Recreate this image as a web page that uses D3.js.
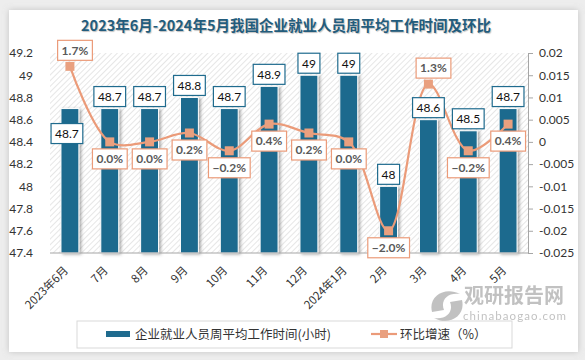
<!DOCTYPE html>
<html>
<head>
<meta charset="utf-8">
<script src="https://cdn.jsdelivr.net/npm/d3@7"></script>
<style>
  body { margin: 0; background: #ededed; }
  svg { display: block; }
  .num { font-family: Lato, "Noto Sans", sans-serif; }
  .cjk { font-family: "Noto Sans CJK SC", sans-serif; }
</style>
</head>
<body>
<div id="chart"></div>
<script>
// data
var months = ["2023年6月", "7月", "8月", "9月", "10月", "11月", "12月",
              "2024年1月", "2月", "3月", "4月", "5月"];
var hours = [48.7, 48.7, 48.7, 48.8, 48.7, 48.9, 49, 49, 48, 48.6, 48.5, 48.7];
var growth = [0.017, 0.000, 0.000, 0.002, -0.002, 0.004, 0.002, 0.000,
              -0.020, 0.013, -0.002, 0.004];
var leftTicks = [47.4, 47.6, 47.8, 48, 48.2, 48.4, 48.6, 48.8, 49, 49.2];
var rightTicks = [-0.025, -0.02, -0.015, -0.01, -0.005, 0, 0.005, 0.01, 0.015, 0.02];

var W = 585, H = 360;
var margin = {top: 53, bottom: 107, left: 50, right: 57};
var barColor = "#1f6b8e", lineColor = "#eb9b79";

var svg = d3.select("#chart").append("svg")
    .attr("width", W).attr("height", H);

var defs = svg.append("defs");
var pat = defs.append("pattern")
    .attr("id", "hatch").attr("patternUnits", "userSpaceOnUse")
    .attr("width", 4).attr("height", 4)
    .attr("patternTransform", "rotate(45)");
pat.append("rect").attr("width", 4).attr("height", 4).attr("fill", "#fff");
pat.append("line").attr("x1", 0).attr("y1", 0).attr("x2", 0).attr("y2", 4)
    .attr("stroke", "#d6d6d6").attr("stroke-width", 1.2);

var sh = defs.append("filter").attr("id", "shadow")
    .attr("x", "-50%").attr("y", "-10%").attr("width", "200%").attr("height", "120%");
sh.append("feDropShadow").attr("dx", 2).attr("dy", 1).attr("stdDeviation", 1.5)
    .attr("flood-color", "#555").attr("flood-opacity", 0.5);

var cs = defs.append("filter").attr("id", "cardShadow")
    .attr("x", "-5%").attr("y", "-5%").attr("width", "110%").attr("height", "110%");
cs.append("feDropShadow").attr("dx", 0).attr("dy", 0).attr("stdDeviation", 3)
    .attr("flood-color", "#999").attr("flood-opacity", 0.5);

// card
svg.append("rect").attr("x", 9).attr("y", 10).attr("width", 569).attr("height", 342)
    .attr("fill", "#fff").attr("filter", "url(#cardShadow)");

// title
svg.append("text").attr("class", "cjk")
    .attr("x", 286).attr("y", 31).attr("text-anchor", "middle")
    .attr("font-size", 14.5).attr("font-weight", "bold").attr("fill", "#235c7c")
    .style("text-shadow", "1px 1px 1px rgba(0,0,0,0.25)")
    .text("2023年6月-2024年5月我国企业就业人员周平均工作时间及环比");

var x0 = margin.left, x1 = W - margin.right;
var y0 = H - margin.bottom, y1 = margin.top;

var xScale = d3.scaleBand().domain(months).range([x0, x1])
    .paddingInner(0.55).paddingOuter(0.275);
var yScale = d3.scaleLinear().domain([47.4, 49.2]).range([y0, y1]);
var yScale2 = d3.scaleLinear().domain([-0.025, 0.02]).range([y0, y1]);

// hatched plot background
svg.append("rect").attr("x", x0).attr("y", y1)
    .attr("width", x1 - x0).attr("height", y0 - y1)
    .attr("fill", "url(#hatch)");

// axes
var yAxis = d3.axisLeft(yScale).tickValues(leftTicks).tickSize(0).tickPadding(17)
    .tickFormat(d3.format("~g"));
svg.append("g").attr("class", "num")
    .attr("transform", "translate(" + x0 + ",0)")
    .call(yAxis)
    .call(g => g.select(".domain").remove())
    .selectAll("text").attr("font-size", 12).attr("fill", "#333")
    .attr("font-family", "Lato, 'Noto Sans', sans-serif");

var yAxis2 = d3.axisRight(yScale2).tickValues(rightTicks).tickSize(5).tickPadding(6)
    .tickSizeOuter(0).tickFormat(d3.format("~g"));
var ra = svg.append("g")
    .attr("transform", "translate(" + x1 + ",0)")
    .call(yAxis2);
ra.select(".domain").attr("stroke", "#a6a6a6");
ra.selectAll("line").attr("stroke", "#a6a6a6");
ra.selectAll("text").attr("font-size", 12).attr("fill", "#333")
    .attr("font-family", "Lato, 'Noto Sans', sans-serif")
    .text(d => d === 0 ? "0" : String(d));

// bars
svg.selectAll("rect.bar").data(months).enter().append("rect")
    .attr("class", "bar")
    .attr("x", d => xScale(d))
    .attr("width", xScale.bandwidth())
    .attr("y", (d, i) => yScale(hours[i]))
    .attr("height", (d, i) => y0 - yScale(hours[i]))
    .attr("fill", barColor)
    .attr("stroke", "#fff").attr("stroke-width", 1)
    .attr("filter", "url(#shadow)");

// baseline
svg.append("line").attr("x1", x0).attr("x2", x1).attr("y1", y0).attr("y2", y0)
    .attr("stroke", "#a6a6a6");

// x labels
svg.append("g").selectAll("text").data(months).enter().append("text")
    .attr("class", "cjk")
    .attr("transform", d => "translate(" + (xScale(d) + xScale.bandwidth() / 2 - 1)
        + "," + (y0 + 18) + ") rotate(-45)")
    .attr("text-anchor", "end")
    .attr("font-size", 11.5).attr("fill", "#333")
    .text(d => d);

// line
var cx = d => xScale(d) + xScale.bandwidth() / 2;
var line = d3.line()
    .x((d, i) => cx(months[i]))
    .y(d => yScale2(d))
    .curve(d3.curveCatmullRom.alpha(0.5));
svg.append("path").datum(growth)
    .attr("d", line).attr("fill", "none")
    .attr("stroke", lineColor).attr("stroke-width", 2.2);

svg.selectAll("rect.mk").data(growth).enter().append("rect")
    .attr("class", "mk")
    .attr("x", (d, i) => cx(months[i]) - 4.5)
    .attr("y", d => yScale2(d) - 4.5)
    .attr("width", 9).attr("height", 9)
    .attr("fill", "#e9a07f");

// label boxes
function labelBox(g, cxp, cyp, txt, stroke, color, weight) {
    var t = g.append("text").attr("class", "num")
        .attr("x", cxp).attr("y", cyp).attr("dy", "0.36em")
        .attr("text-anchor", "middle")
        .attr("font-size", 12).attr("font-weight", weight).attr("fill", color)
        .text(txt);
    var bb = t.node().getBBox();
    g.insert("rect", "text")
        .attr("x", bb.x - 4).attr("y", cyp - 10)
        .attr("width", bb.width + 8).attr("height", 20)
        .attr("fill", "#fff").attr("stroke", stroke).attr("stroke-width", 1.2);
}

// bar value labels
hours.forEach(function(v, i) {
    var g = svg.append("g");
    var top = yScale(v);
    var c = cx(months[i]);
    if (i === 0) labelBox(g, c - 3, top + 25, d3.format("~g")(v), barColor, "#111", "normal");
    else labelBox(g, c, top - 12, d3.format("~g")(v), barColor, "#111", "normal");
});

// growth labels
growth.forEach(function(v, i) {
    var g = svg.append("g");
    var py = yScale2(v);
    var c = cx(months[i]);
    var txt = d3.format(".1f")(v * 100) + "%";
    if (v > 0.01) labelBox(g, c + 5, py - 16, txt, lineColor, "#595959", "bold");
    else labelBox(g, c, py + 17, txt, lineColor, "#595959", "bold");
});

// legend
var lg = svg.append("g");
lg.append("rect").attr("x", 77).attr("y", 321).attr("width", 435).attr("height", 27)
    .attr("fill", "#fff").attr("stroke", "#d9d9d9");
lg.append("rect").attr("x", 106).attr("y", 331).attr("width", 24).attr("height", 6)
    .attr("fill", barColor);
lg.append("text").attr("class", "cjk").attr("x", 135).attr("y", 339)
    .attr("font-size", 12.5).attr("fill", "#333").text("企业就业人员周平均工作时间(小时)");
lg.append("line").attr("x1", 371).attr("x2", 397).attr("y1", 334).attr("y2", 334)
    .attr("stroke", lineColor).attr("stroke-width", 2.2);
lg.append("rect").attr("x", 380).attr("y", 330).attr("width", 8).attr("height", 8)
    .attr("fill", "#e9a07f");
lg.append("text").attr("class", "cjk").attr("x", 400).attr("y", 339)
    .attr("font-size", 12.5).attr("fill", "#333").text("环比增速（%）");

// watermark, drawn semi-transparent on top
var wm = svg.append("g").attr("opacity", 0.6);
wm.append("path")
    .attr("d", "M432,312 C428,296 445,286 460,294 C448,292 440,300 444,310 Z")
    .attr("fill", "#999");
wm.append("path")
    .attr("d", "M462,300 C466,316 449,326 434,318 C446,320 454,312 450,302 Z")
    .attr("fill", "#999");
wm.append("text").attr("class", "cjk").attr("x", 464).attr("y", 303)
    .attr("font-size", 20).attr("font-weight", "bold").attr("fill", "#999")
    .text("观研报告网");
wm.append("text").attr("class", "num").attr("x", 463).attr("y", 320)
    .attr("font-size", 11.5).attr("fill", "#999").attr("textLength", 103)
    .text("chinabaogao.com");
</script>
</body>
</html>
